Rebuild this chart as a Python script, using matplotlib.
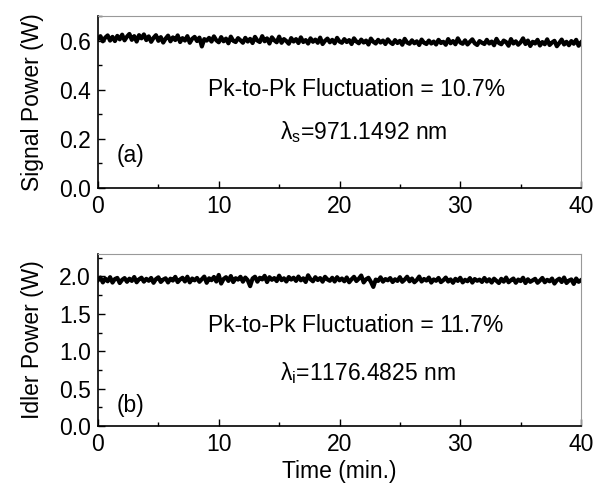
import numpy as np
import matplotlib
matplotlib.use("Agg")
import matplotlib.pyplot as plt
from matplotlib.ticker import MultipleLocator, FormatStrFormatter

plt.rcParams['font.family'] = ['Liberation Sans', 'DejaVu Sans']
plt.rcParams['mathtext.fontset'] = 'custom'
plt.rcParams['mathtext.rm'] = 'Liberation Sans'
plt.rcParams['mathtext.it'] = 'Liberation Sans'

time_min = [i * 0.2 for i in range(201)]

signal_mw = [
    606, 618, 597, 612, 621, 600, 615, 598, 619, 605, 624, 601, 616, 627, 603, 618, 596, 622, 609, 625, 602,
    617, 595, 611, 622, 599, 614, 592, 608, 620, 597, 613, 602, 621, 594, 610, 600, 618, 591, 607, 615,
    598, 612, 576, 606, 600, 611, 596, 617, 601, 593, 614, 597, 608, 589, 616, 599, 594, 610, 601, 591,
    611, 596, 607, 590, 615, 600, 594, 618, 597, 609, 588, 613, 601, 593, 616, 591, 606, 598, 587, 610,
    596, 606, 590, 613, 594, 602, 588, 609, 595, 604, 591, 612, 586, 599, 608, 593, 603, 589, 611, 596,
    591, 606, 594, 602, 586, 609, 596, 589, 604, 592, 600, 584, 608, 595, 588, 603, 592, 600, 586, 605,
    593, 586, 602, 590, 599, 583, 607, 592, 587, 601, 589, 597, 582, 604, 591, 586, 600, 588, 596, 584,
    603, 590, 595, 583, 606, 589, 598, 585, 609, 592, 587, 601, 584, 595, 605, 589, 582, 598, 591, 586,
    603, 588, 596, 581, 607, 590, 585, 600, 594, 579, 606, 588, 597, 583, 593, 609, 586, 600, 578, 595,
    588, 603, 580, 594, 585, 605, 582, 592, 599, 577, 590, 604, 584, 595, 581, 598, 587, 603, 579, 592,
]

idler_mw = [
    1950, 1985, 1920, 1972, 1935, 1990, 1918, 1966, 1980, 1912, 1955, 1978, 1928, 1970, 1940, 1992, 1922, 1962, 1983, 1930, 1968,
    1942, 1980, 1915, 1965, 1988, 1926, 1958, 1975, 1920, 1970, 1945, 1994, 1924, 1960, 1982, 1933, 1996, 1921, 1972, 1948,
    1980, 1928, 1962, 1998, 1915, 1975, 1950, 1993, 1932, 2020, 1905, 1966, 1990, 1940, 2005, 1925, 1976, 1958, 1995, 1930,
    1985, 1950, 1870, 1972, 1996, 1930, 1982, 1960, 2008, 1925, 1990, 1955, 1978, 1938, 2010, 1950, 1975, 1932, 1992, 1958,
    1983, 1940, 1998, 1948, 1975, 1926, 2015, 1962, 1935, 1990, 1952, 1978, 1930, 1995, 1960, 1942, 1982, 1932, 1990, 1948,
    1972, 1935, 1986, 1922, 1962, 1995, 1938, 1970, 2012, 1920, 1962, 1982, 1928, 1860, 1958, 1940, 1988, 1930, 1965, 1948,
    1978, 1925, 1962, 1940, 1990, 1928, 1958, 1996, 1935, 1972, 1922, 1952, 1998, 1932, 1966, 1945, 1985, 1918, 1960, 1942,
    1980, 1924, 1950, 1985, 1932, 1960, 1915, 1968, 1940, 1982, 1920, 1955, 1936, 1978, 1918, 1965, 1942, 1958, 1926, 1980,
    1932, 1962, 1918, 1970, 1940, 1912, 1968, 1930, 1985, 1922, 1950, 1972, 1915, 1958, 1938, 1982, 1912, 1962, 1928, 1948,
    1968, 1915, 1945, 1980, 1922, 1955, 1935, 1972, 1905, 1948, 1970, 1925, 1985, 1912, 1945, 1960, 1900, 1972, 1928, 1950,
]

signal_w = np.array(signal_mw) / 1000.0
idler_w = np.array(idler_mw) / 1000.0

W, H = 602, 484
fig = plt.figure(figsize=(W / 100, H / 100), dpi=100)

def make_axes(top_px, bottom_px):
    return fig.add_axes([98 / W, (H - bottom_px) / H, (581 - 98) / W, (bottom_px - top_px) / H])

ax1 = make_axes(16, 188)
ax2 = make_axes(254, 426)

fs = 16.5
for ax in (ax1, ax2):
    ax.set_xlim(0, 40)
    ax.xaxis.set_major_locator(MultipleLocator(10))
    ax.xaxis.set_minor_locator(MultipleLocator(5))
    ax.tick_params(which='both', direction='in', top=False, right=False, labelsize=fs, width=1.0)
    ax.tick_params(which='major', length=5, pad=5)
    ax.tick_params(which='minor', length=3)
    for s in ('top', 'right'):
        ax.spines[s].set_color('#999999')
        ax.spines[s].set_linewidth(0.8)
    for s in ('left', 'bottom'):
        ax.spines[s].set_color('black')
        ax.spines[s].set_linewidth(1.2)

ax1.plot(time_min, signal_w, color='black', lw=3.0)
ax1.set_ylim(0, 0.7)
ax1.yaxis.set_major_locator(MultipleLocator(0.2))
ax1.yaxis.set_minor_locator(MultipleLocator(0.1))
ax1.yaxis.set_major_formatter(FormatStrFormatter('%.1f'))
ax1.set_ylabel('Signal Power (W)', fontsize=fs, labelpad=11)
ax1.text(0.228, 0.57, 'Pk-to-Pk Fluctuation = 10.7%', transform=ax1.transAxes, fontsize=fs, va='center', ha='left')
ax1.text(0.377, 0.326, r'$\lambda_{s}$=971.1492 nm', transform=ax1.transAxes, fontsize=fs, va='center', ha='left')
ax1.text(0.039, 0.19, '(a)', transform=ax1.transAxes, fontsize=fs, va='center', ha='left')

ax2.plot(time_min, idler_w, color='black', lw=3.0)
ax2.set_ylim(0, 2.3)
ax2.yaxis.set_major_locator(MultipleLocator(0.5))
ax2.yaxis.set_minor_locator(MultipleLocator(0.25))
ax2.yaxis.set_major_formatter(FormatStrFormatter('%.1f'))
ax2.set_ylabel('Idler Power (W)', fontsize=fs, labelpad=11)
ax2.set_xlabel('Time (min.)', fontsize=fs, labelpad=3)
ax2.text(0.228, 0.587, 'Pk-to-Pk Fluctuation = 11.7%', transform=ax2.transAxes, fontsize=fs, va='center', ha='left')
ax2.text(0.377, 0.308, r'$\lambda_{i}$=1176.4825 nm', transform=ax2.transAxes, fontsize=fs, va='center', ha='left')
ax2.text(0.039, 0.122, '(b)', transform=ax2.transAxes, fontsize=fs, va='center', ha='left')

fig.savefig('out.png', dpi=100)
